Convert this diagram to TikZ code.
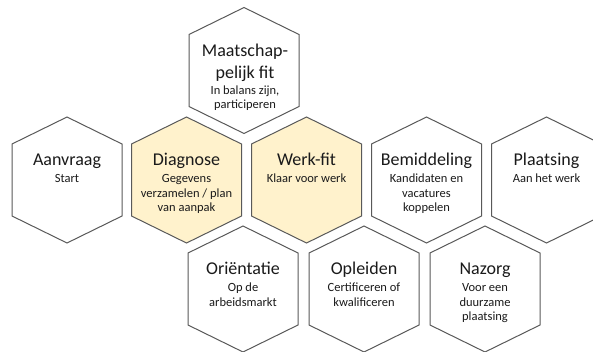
\documentclass[tikz,border=0pt]{standalone}
\usepackage{fontspec}
\setmainfont{Carlito}
\definecolor{hexyellow}{HTML}{FFF2CC}
\definecolor{hexline}{HTML}{595959}
\definecolor{txt}{HTML}{1A1A1A}
\tikzset{
  hexcell/.style={draw=hexline, line width=1pt, line join=miter},
  titletext/.style={anchor=base, inner sep=0pt, align=center, text=txt, font=\fontsize{18}{21.5}\selectfont},
  subtext/.style={anchor=base, inner sep=0pt, align=center, text=txt, font=\fontsize{12.5}{14.5}\selectfont},
}
\newcommand{\hexcellpath}[2]{%
  \filldraw[hexcell, fill=#2] ([shift={(-55,-36)}]#1) -- ++(55,-27) -- ++(55,27) -- ++(0,72) -- ++(-55,27) -- ++(-55,-27) -- cycle;}
\begin{document}
\begin{tikzpicture}[x=1pt,y=-1pt]
  \useasboundingbox (0,0) rectangle (593,351);
  \clip (0,0) rectangle (593,351);
  % centres
  \coordinate (maat) at (244,70.5);
  \coordinate (aanv) at (67,180);
  \coordinate (diag) at (186.5,180);
  \coordinate (werk) at (306.5,180);
  \coordinate (bemi) at (426.5,180);
  \coordinate (plaa) at (546.5,180);
  \coordinate (orie) at (243,289);
  \coordinate (ople) at (364,289);
  \coordinate (nazo) at (485,289);
  % hexagons
  \hexcellpath{maat}{white}
  \hexcellpath{aanv}{white}
  \hexcellpath{diag}{hexyellow}
  \hexcellpath{werk}{hexyellow}
  \hexcellpath{bemi}{white}
  \hexcellpath{plaa}{white}
  \hexcellpath{orie}{white}
  \hexcellpath{ople}{white}
  \hexcellpath{nazo}{white}
  % texts (base anchor = baseline of the last line)
  \node[titletext] (maat-t) at ([shift={(1,7.5)}]maat) {Maatschap-\\pelijk fit};
  \node[subtext] (maat-s) at ([shift={(1,38)}]maat) {In balans zijn,\\participeren};
  \node[titletext] (aanv-t) at ([shift={(0,-14.5)}]aanv) {Aanvraag};
  \node[subtext] (aanv-s) at ([shift={(0,2.5)}]aanv) {Start};
  \node[titletext] (diag-t) at ([shift={(0,-14.5)}]diag) {Diagnose};
  \node[subtext] (diag-s) at ([shift={(0,31.5)}]diag) {Gegevens\\verzamelen / plan\\van aanpak};
  \node[titletext] (werk-t) at ([shift={(0,-14.5)}]werk) {Werk-fit};
  \node[subtext] (werk-s) at ([shift={(0,2.5)}]werk) {Klaar voor werk};
  \node[titletext] (bemi-t) at ([shift={(0,-14.5)}]bemi) {Bemiddeling};
  \node[subtext] (bemi-s) at ([shift={(0,31.5)}]bemi) {Kandidaten en\\vacatures\\koppelen};
  \node[titletext] (plaa-t) at ([shift={(0,-14.5)}]plaa) {Plaatsing};
  \node[subtext] (plaa-s) at ([shift={(0,2.5)}]plaa) {Aan het werk};
  \node[titletext] (orie-t) at ([shift={(0,-14.5)}]orie) {Oriëntatie};
  \node[subtext] (orie-s) at ([shift={(0,17)}]orie) {Op de\\arbeidsmarkt};
  \node[titletext] (ople-t) at ([shift={(0,-14.5)}]ople) {Opleiden};
  \node[subtext] (ople-s) at ([shift={(0,17)}]ople) {Certificeren of\\kwalificeren};
  \node[titletext] (nazo-t) at ([shift={(0,-14.5)}]nazo) {Nazorg};
  \node[subtext] (nazo-s) at ([shift={(0,31.5)}]nazo) {Voor een\\duurzame\\plaatsing};
\end{tikzpicture}
\end{document}
